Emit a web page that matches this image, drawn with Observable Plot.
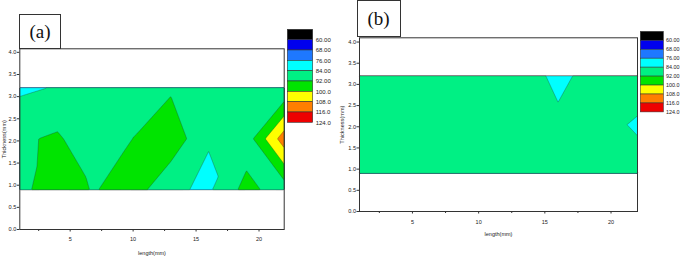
<!DOCTYPE html>
<html>
<head>
<meta charset="utf-8">
<script src="https://cdn.jsdelivr.net/npm/d3@7"></script>
<script src="https://cdn.jsdelivr.net/npm/@observablehq/plot@0.6"></script>
<style>
  body { margin: 0; background: #fff; }
  #root { position: relative; width: 685px; height: 258px; overflow: hidden; background: #fff;
          font-family: "Liberation Sans", Arial, sans-serif; }
  .abs { position: absolute; }
  .tag { position: absolute; border: 1px solid #333; background: #fff; box-sizing: border-box;
         font-family: "Liberation Serif", "Times New Roman", serif; font-size: 19px; color: #111;
         display: flex; align-items: center; justify-content: center; }
</style>
</head>
<body>
<div id="root"></div>
<script>
// ---- data ----
const lengthMm = [1, 4, 7, 10, 13, 16, 19, 22];
const thicknessMm = [0.9, 2.05, 3.2];
// panel (a): one array per thickness row, values along length
const aRow09  = [91.0, 94.2, 91.6, 96.1, 85.2, 82.8, 94.7, 87.4];
const aRow205 = [90.8, 93.2, 85.5, 92.1, 97.5, 84.4, 87.5, 112.5];
const aRow32  = [82.6, 84.5, 87.0, 88.0, 90.9, 87.0, 87.0, 84.5];
// panel (b)
const bRow09  = [88.0, 89.0, 88.0, 89.0, 88.0, 87.0, 88.0, 85.7];
const bRow205 = [88.0, 89.0, 88.0, 89.0, 88.0, 85.7, 85.4, 83.5];
const bRow32  = [87.0, 88.0, 88.0, 88.0, 88.5, 82.0, 87.45, 86.3];
// colour levels
const levels = [60, 68, 76, 84, 92, 100, 108, 116, 124];
const levelLabels = ["60.00", "68.00", "76.00", "84.00", "92.00", "100.0", "108.0", "116.0", "124.0"];
const levelColors = ["#000000", "#0000ee", "#1e78ff", "#00ffff", "#00f084", "#00e400", "#ffff00", "#ff7f00", "#ee0000"];
const xTicks = [5, 10, 15, 20];
const xMinorTicks = [2.5, 7.5, 12.5, 17.5];
const yTicks = [0, 0.5, 1, 1.5, 2, 2.5, 3, 3.5, 4];

function toPoints(rows) {
  const pts = [];
  rows.forEach((row, r) => row.forEach((v, c) => pts.push({x: lengthMm[c], y: thicknessMm[r], v})));
  return pts;
}

// piecewise-linear (triangulated) interpolation of the measurement grid
function gridInterpolate(index, width, height, X, Y, V) {
  const xs = [...new Set(Array.from(index, i => X[i]))].sort((a, b) => a - b);
  const ys = [...new Set(Array.from(index, i => Y[i]))].sort((a, b) => a - b);
  const val = new Map();
  for (const i of index) val.set(X[i] + "|" + Y[i], V[i]);
  const at = (c, r) => val.get(xs[c] + "|" + ys[r]);
  const locate = (arr, p) => { let k = 0; while (k < arr.length - 2 && p > arr[k + 1]) k++; return k; };
  const W = new Float64Array(width * height);
  for (let j = 0; j < height; ++j) {
    const py = j + 0.5;
    const r = locate(ys, py);
    const t = Math.max(0, Math.min(1, (py - ys[r]) / (ys[r + 1] - ys[r])));
    for (let i = 0; i < width; ++i) {
      const px = i + 0.5;
      const c = locate(xs, px);
      const u = Math.max(0, Math.min(1, (px - xs[c]) / (xs[c + 1] - xs[c])));
      const v00 = at(c, r), v10 = at(c + 1, r), v01 = at(c, r + 1), v11 = at(c + 1, r + 1);
      let f;
      if (Math.abs(v00 - v11) <= Math.abs(v10 - v01)) {
        f = u >= t ? v00 + u * (v10 - v00) + t * (v11 - v10)
                   : v00 + t * (v01 - v00) + u * (v11 - v01);
      } else {
        f = u + t <= 1 ? v00 + u * (v10 - v00) + t * (v01 - v00)
                       : v11 + (1 - u) * (v01 - v11) + (1 - t) * (v10 - v11);
      }
      W[j * width + i] = f;
    }
  }
  return W;
}

function panel(rows, o) {
  return Plot.plot({
    width: o.width, height: o.height,
    marginLeft: o.ml, marginRight: o.mr, marginTop: o.mt, marginBottom: o.mb,
    x: {domain: [1, 22]},
    y: {domain: [0, o.yMax]},
    color: {type: "ordinal", domain: levels, range: [...levelColors.slice(1), "#800000"]},
    style: {fontFamily: "Liberation Sans, Arial, sans-serif", fontSize: "5.5px", color: "#222", background: "transparent", overflow: "visible"},
    marks: [
      Plot.contour(toPoints(rows), {
        x: "x", y: "y", fill: "v", thresholds: levels, interpolate: gridInterpolate,
        x1: 1, x2: 22, y1: thicknessMm[0], y2: thicknessMm[2], pixelSize: 1,
        stroke: "#2a2a2a", strokeWidth: 0.45, strokeOpacity: 0.7
      }),
      Plot.frame({stroke: "#333", strokeWidth: 1}),
      Plot.axisX(xMinorTicks, {tickSize: 2, text: null, label: null, stroke: "#333"}),
      Plot.axisX(xTicks, {tickSize: 2.5, tickPadding: o.xPad, fontSize: 5.5, stroke: "#333",
        label: "length(mm)", labelAnchor: "center", labelOffset: o.xLabOff, labelArrow: "none"}),
      Plot.axisY(yTicks, {tickSize: 2.5, tickPadding: 1, tickFormat: d3.format(".1f"), fontSize: 5.6, stroke: "#333",
        label: "Thickness(mm)", labelAnchor: "center", labelOffset: o.yLabOff, labelArrow: "none"})
    ]
  });
}

function legend(o) {
  return Plot.plot({
    width: o.width, height: o.height,
    marginLeft: o.ml, marginRight: o.mr, marginTop: o.mt, marginBottom: o.mb,
    x: {domain: [0, 1], axis: null},
    y: {domain: [0, levels.length], reverse: true, axis: null},
    color: {type: "identity"},
    style: {fontFamily: "Liberation Sans, Arial, sans-serif", color: "#222", background: "transparent", overflow: "visible"},
    marks: [
      Plot.rect(levels, {x1: 0, x2: 1, y1: (d, i) => i, y2: (d, i) => i + 1,
        fill: (d, i) => levelColors[i], stroke: "#333", strokeWidth: 0.6}),
      Plot.text(levelLabels, {x: 1, y: (d, i) => i + 1, text: d => d, dx: 2.5, textAnchor: "start", fontSize: 6})
    ]
  });
}

function place(el, left, top) {
  const d = document.createElement("div");
  d.className = "abs";
  d.style.left = left + "px";
  d.style.top = top + "px";
  d.appendChild(el);
  document.getElementById("root").appendChild(d);
}
function tag(text, left, top, w, h) {
  const d = document.createElement("div");
  d.className = "tag";
  d.style.left = left + "px"; d.style.top = top + "px";
  d.style.width = w + "px"; d.style.height = h + "px";
  d.textContent = text;
  document.getElementById("root").appendChild(d);
}

place(panel([aRow09, aRow205, aRow32], {width: 290, height: 258, ml: 19.3, mr: 6.3, mt: 48.3, mb: 29, yMax: 4.08, xPad: 5, xLabOff: 25, yLabOff: 18}), 0, 0);
place(legend({width: 50, height: 96, ml: 0.3, mr: 24.3, mt: 1.3, mb: 1.7}), 287, 28);
tag("(a)", 19, 14, 42, 35);

place(panel([bRow09, bRow205, bRow32], {width: 310, height: 258, ml: 29, mr: 3, mt: 37.3, mb: 47, yMax: 4.1, xPad: 6, xLabOff: 24, yLabOff: 19}), 330, 0);
place(legend({width: 50, height: 92, ml: 0.3, mr: 24, mt: 1.5, mb: 1}), 640, 29.5);
tag("(b)", 356.5, 0, 44, 37);
</script>
</body>
</html>
